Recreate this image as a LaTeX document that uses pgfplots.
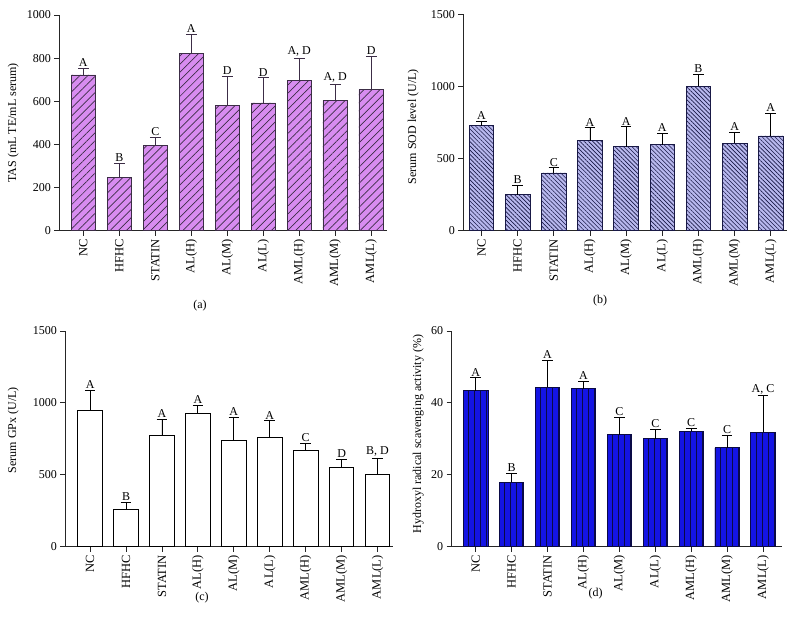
\documentclass[border=0pt]{standalone}
\usepackage{pgfplots}
\pgfplotsset{compat=1.18}
\usetikzlibrary{patterns.meta}
\usepackage{fontspec}
\setmainfont{Liberation Serif}
\definecolor{violA}{RGB}{216,140,240}
\definecolor{edgeA}{RGB}{60,45,70}
\definecolor{lavB}{RGB}{184,184,238}
\definecolor{edgeB}{RGB}{25,25,70}
\definecolor{blueD}{RGB}{20,20,228}
\definecolor{edgeD}{RGB}{10,10,70}
\newcommand{\fs}{\fontsize{12}{14}\selectfont}
\newcommand{\fx}{\fontsize{12.5}{14}\selectfont}
\newcommand{\fl}{\fontsize{12}{14}\selectfont}
\pgfplotsset{
  myaxis/.style={
    scale only axis,
    anchor=south west,
    axis x line=bottom, axis y line=left,
    axis line style={-, line width=0.9pt, black!85},
    tick align=outside,
    major tick length=5pt,
    tick style={line width=0.9pt, black!85},
    xtick={0,...,8},
    xticklabels={NC,HFHC,STATIN,AL(H),AL(M),AL(L),AML(H),AML(M),AML(L)},
    xticklabel style={rotate=90, anchor=east, font=\fx, inner sep=3.5pt},
    yticklabel style={font=\fs},
    ylabel style={font=\fs, anchor=center},
    /pgf/number format/assume math mode=true,
    /pgf/number format/1000 sep={},
    ymin=0,
    clip=false,
  },
  mybar/.style={ybar, bar width=0.68, line width=0.8pt,
    /pgfplots/error bars/y dir=plus, /pgfplots/error bars/y explicit,
    /pgfplots/error bars/error bar style={line width=0.9pt, #1},
    /pgfplots/error bars/error mark options={rotate=90, mark size=5.3pt, line width=0.9pt, #1}},
  letters/.style={only marks, mark=none, nodes near coords, point meta=explicit symbolic,
    nodes near coords style={anchor=south, font=\fl, inner sep=1.5pt, text=black}},
}
\begin{document}
\begin{tikzpicture}
\useasboundingbox (0pt,0pt) rectangle (798pt,639pt);

% (a)
\begin{axis}[myaxis, at={(59.3pt,408.3pt)}, width=327.4pt, height=215.7pt,
  xmin=-0.667, xmax=8.43, ymax=1000, ytick={0,200,...,1000},
  ylabel={TAS (mL TE/mL serum)},
  ylabel style={at={(axis description cs:-0.1405,0.5)}}]
\addplot[mybar=edgeA, fill=violA, draw=edgeA,
  postaction={pattern color=edgeA, pattern={Lines[angle=45,distance=5.7pt,line width=0.7pt]}}]
  coordinates {(0,722) +- (0,31) (1,246) +- (0,65) (2,396) +- (0,37)
  (3,821) +- (0,88) (4,581) +- (0,135) (5,592) +- (0,117)
  (6,696) +- (0,103) (7,603) +- (0,76) (8,654) +- (0,154)};
\addplot[letters] coordinates {(0,753) [A] (1,311) [B] (2,433) [C] (3,909) [A]
  (4,716) [D] (5,709) [D] (6,799) [{A, D}] (7,679) [{A, D}] (8,808) [D]};
\end{axis}

% (b)
\begin{axis}[myaxis, at={(463.3pt,408.3pt)}, width=323.4pt, height=216.4pt,
  xmin=-0.503, xmax=8.44, ymax=1500, ytick={0,500,1000,1500},
  ylabel={Serum SOD level (U/L)},
  ylabel style={at={(axis description cs:-0.1546,0.48)}}]
\addplot[mybar=black, fill=lavB, draw=edgeB,
  postaction={pattern color=edgeB, pattern={Lines[angle=-45,distance=3pt,line width=0.6pt]}}]
  coordinates {(0,727) +- (0,30) (1,250) +- (0,62) (2,400) +- (0,35)
  (3,623) +- (0,90) (4,583) +- (0,137) (5,597) +- (0,79)
  (6,1000) +- (0,83) (7,606) +- (0,77) (8,657) +- (0,155)};
\addplot[letters] coordinates {(0,757) [A] (1,312) [B] (2,435) [C] (3,713) [A]
  (4,720) [A] (5,676) [A] (6,1083) [B] (7,683) [A] (8,812) [A]};
\end{axis}

% (c)
\begin{axis}[myaxis, at={(65.3pt,92.3pt)}, width=327.7pt, height=215.7pt,
  xmin=-0.69, xmax=8.43, ymax=1500, ytick={0,500,1000,1500},
  ylabel={Serum GPx (U/L)},
  ylabel style={at={(axis description cs:-0.159,0.54)}}]
\addplot[mybar=black, fill=white, draw=black]
  coordinates {(0,951) +- (0,134) (1,260) +- (0,51) (2,774) +- (0,112)
  (3,925) +- (0,58) (4,740) +- (0,162) (5,760) +- (0,116)
  (6,670) +- (0,49) (7,554) +- (0,51) (8,503) +- (0,114)};
\addplot[letters] coordinates {(0,1085) [A] (1,311) [B] (2,886) [A] (3,983) [A]
  (4,902) [A] (5,876) [A] (6,719) [C] (7,605) [D] (8,617) [{B, D}]};
\end{axis}

% (d)
\begin{axis}[myaxis, at={(451.7pt,92.3pt)}, width=330pt, height=215.7pt,
  xmin=-0.67, xmax=8.52, ymax=60, ytick={0,20,40,60},
  ylabel={Hydroxyl radical scavenging activity (\%)},
  ylabel style={at={(axis description cs:-0.101,0.522)}}]
\addplot[mybar=black, fill=blueD, draw=edgeD,
  postaction={pattern color=edgeD, pattern={Lines[angle=90,distance=6pt,line width=0.8pt]}}]
  coordinates {(0,43.4) +- (0,3.6) (1,17.9) +- (0,2.6) (2,44.4) +- (0,7.4)
  (3,44.0) +- (0,1.9) (4,31.1) +- (0,4.9) (5,30.0) +- (0,2.6)
  (6,32.1) +- (0,0.8) (7,27.5) +- (0,3.4) (8,31.9) +- (0,10.1)};
\addplot[letters] coordinates {(0,47.0) [A] (1,20.5) [B] (2,51.8) [A] (3,45.9) [A]
  (4,36.0) [C] (5,32.6) [C] (6,32.9) [C] (7,30.9) [C] (8,42.0) [{A, C}]};
\end{axis}

\node[font=\fs] at (200pt,333pt) {(a)};
\node[font=\fs] at (600pt,338pt) {(b)};
\node[font=\fs] at (202pt,41.5pt) {(c)};
\node[font=\fs] at (595.7pt,45.7pt) {(d)};
\end{tikzpicture}
\end{document}
